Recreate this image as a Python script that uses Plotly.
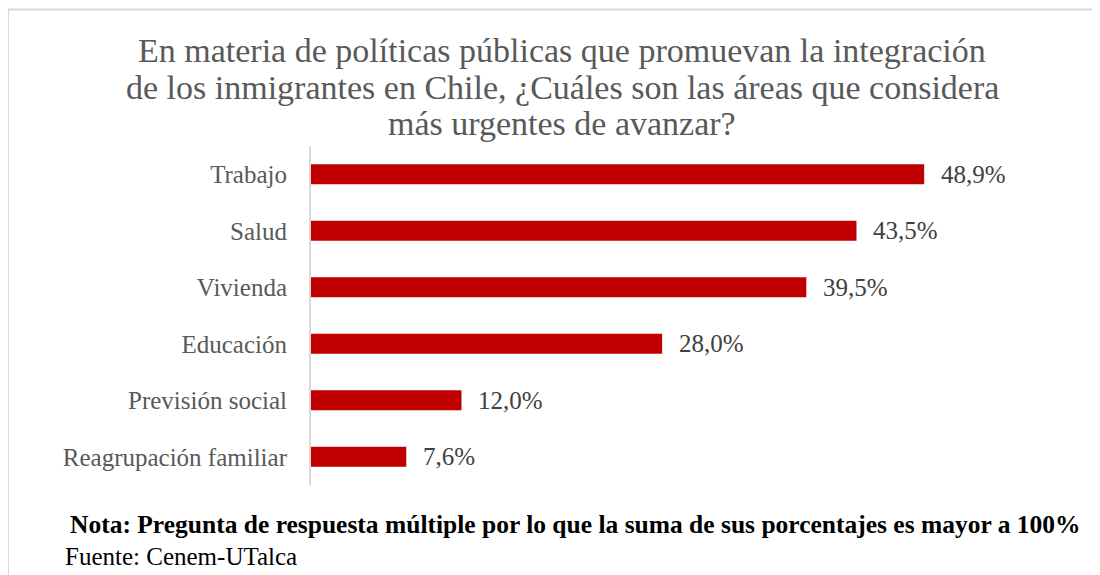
import plotly.graph_objects as go

categories = ["Trabajo", "Salud", "Vivienda", "Educación", "Previsión social", "Reagrupación familiar"]
values = [48.9, 43.5, 39.5, 28.0, 12.0, 7.6]
value_labels = ["48,9%", "43,5%", "39,5%", "28,0%", "12,0%", "7,6%"]

title_lines = ["En materia de políticas públicas que promuevan la integración",
               "de los inmigrantes en Chile, ¿Cuáles son las áreas que considera",
               "más urgentes de avanzar?"]
note_text = "<b>Nota: Pregunta de respuesta múltiple por lo que la suma de sus porcentajes es mayor a 100%</b>"
source_text = "Fuente: Cenem-UTalca"

FONT = "Liberation Serif, DejaVu Serif, serif"
RED = "#C00000"
GRAY_TXT = "#595959"
LINE = "#D9D9D9"

# the page adds an 8px body margin, so figure px = screen px - 8
OFF = 8
W, H = 1100, 575
ML, MR, MT, MB = 311 - OFF, 45, 146 - OFF, H - (485 - OFF)
pw = W - ML - MR
ph = H - MT - MB


def px_x(sx):
    return (sx - OFF - ML) / pw


def px_y(sy):
    return (H - MB - (sy - OFF)) / ph


fig = go.Figure(go.Bar(
    x=values,
    y=categories,
    orientation="h",
    marker=dict(color=RED, line=dict(width=0)),
    width=0.35,
    hoverinfo="skip",
))

# value labels right of each bar
for c, v, t in zip(categories, values, value_labels):
    fig.add_annotation(x=v, y=c, text=t, showarrow=False, xanchor="left",
                       xshift=15, font=dict(family=FONT, size=25, color="#404040"))

# title, one annotation per line to get the tighter line spacing
for line, sy in zip(title_lines, [50, 87, 124]):
    fig.add_annotation(x=px_x(562), y=px_y(sy), xref="paper", yref="paper",
                       text=line, showarrow=False, xanchor="center", yanchor="middle",
                       font=dict(family=FONT, size=34, color=GRAY_TXT))

# notes under the chart
fig.add_annotation(x=px_x(68), y=px_y(524), xref="paper", yref="paper",
                   text=note_text, showarrow=False, xanchor="left", yanchor="middle",
                   font=dict(family=FONT, size=25.5, color="#000000"))
fig.add_annotation(x=px_x(63), y=px_y(556), xref="paper", yref="paper",
                   text=source_text, showarrow=False, xanchor="left", yanchor="middle",
                   font=dict(family=FONT, size=25, color="#000000"))

# outer border of the chart (left and top visible)
fig.add_shape(type="rect", xref="paper", yref="paper",
              x0=px_x(8), x1=px_x(1130),
              y0=px_y(600), y1=px_y(9.5),
              line=dict(color=LINE, width=2), layer="below")

fig.update_layout(
    width=W, height=H,
    paper_bgcolor="white", plot_bgcolor="white",
    margin=dict(l=ML, r=MR, t=MT, b=MB, pad=0),
    xaxis=dict(range=[0, pw / 12.54], visible=False, fixedrange=True),
    yaxis=dict(autorange="reversed", showline=True, linecolor=LINE, linewidth=2,
               ticks="", ticklabelstandoff=17, showgrid=False,
               tickfont=dict(family=FONT, size=25, color=GRAY_TXT)),
    showlegend=False,
    bargap=0.65,
)

fig.write_html("out.html")
